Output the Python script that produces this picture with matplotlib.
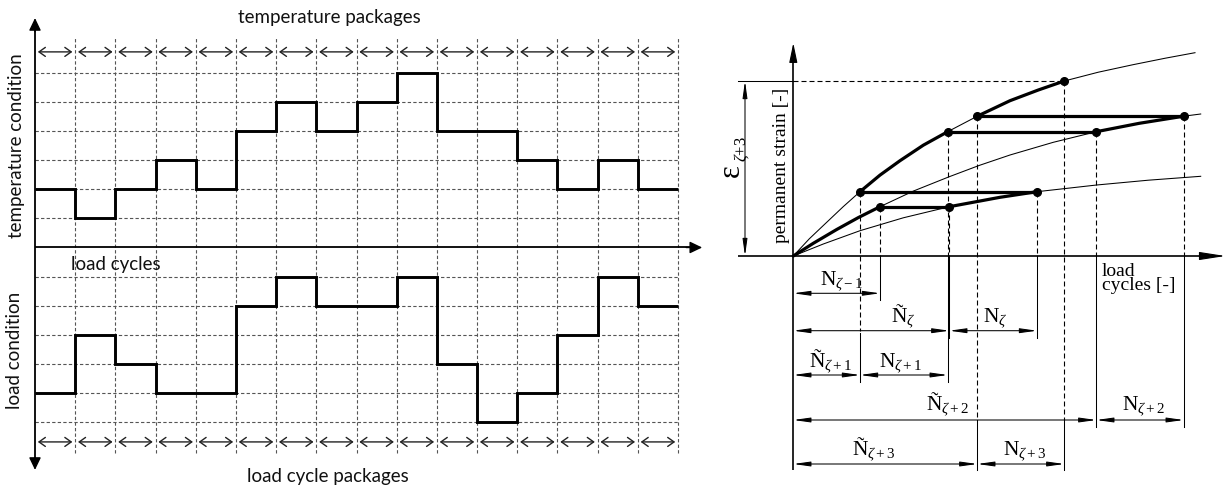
import numpy as np
import matplotlib
matplotlib.use("Agg")
import matplotlib.pyplot as plt

# ------------------------------------------------------------------ data
# left: step histories (level index per package, 16 packages)
temp_levels = [2, 1, 2, 3, 2, 4, 5, 4, 5, 6, 4, 4, 3, 2, 3, 2]
load_levels = [5, 3, 4, 5, 5, 2, 1, 2, 2, 1, 4, 6, 5, 3, 1, 2]   # drawn downward
n_packages = 16
n_grid_levels = 6

# right: three strain curves (load cycles, permanent strain)
top_N = [0, 16.0, 33.4, 50.0, 66.7, 86.7, 106.7, 130.0, 154.4, 184.0, 216.7, 245.0,
         271.0, 305.0, 339.7, 372.0, 401.7]
top_eps = [0, 17.2, 33.7, 49.4, 64.3, 80.9, 95.3, 110.8, 124.3, 139.8, 155.3, 166.0,
           175.0, 183.8, 191.3, 197.8, 203.3]
mid_N = [0, 20.0, 43.4, 65.0, 86.7, 120.0, 156.0, 186.0, 216.7, 260.0, 303.0, 346.0,
         390.4, 407.4]
mid_eps = [0, 12.7, 26.5, 38.4, 49.3, 64.9, 79.3, 90.6, 101.0, 113.7, 124.3, 132.7,
           139.8, 142.0]
bot_N = [0, 30.0, 66.7, 110.0, 156.0, 206.7, 243.7, 303.4, 355.0, 407.4]
bot_eps = [0, 12.0, 25.3, 38.2, 49.3, 58.7, 64.3, 71.0, 75.8, 79.7]

# state points on the curves
point_names = ["A", "B", "C", "D", "E", "F", "G", "H", "I"]
point_N = [66.7, 86.7, 156.0, 243.7, 154.4, 303.0, 184.0, 390.4, 271.0]
point_eps = [64.3, 49.3, 49.3, 64.3, 124.3, 124.3, 139.8, 139.8, 175.0]

# dimension rows: label, start point, end point, row level, label x, label baseline
dim_labels = [r"$\mathrm{N}_{\zeta-1}$", r"$\mathrm{Ñ}_{\zeta}$", r"$\mathrm{N}_{\zeta}$",
              r"$\mathrm{Ñ}_{\zeta+1}$", r"$\mathrm{N}_{\zeta+1}$",
              r"$\mathrm{Ñ}_{\zeta+2}$", r"$\mathrm{N}_{\zeta+2}$",
              r"$\mathrm{Ñ}_{\zeta+3}$", r"$\mathrm{N}_{\zeta+3}$"]
dim_from = ["O", "O", "C", "O", "A", "O", "F", "O", "G"]
dim_to = ["B", "C", "D", "A", "E", "F", "H", "G", "I"]
dim_row = [-37.3, -74.7, -74.7, -119, -119, -164, -164, -208, -208]
dim_lab_x = [26.7, 97.7, 190.0, 15.7, 85.7, 132.7, 328.4, 58.4, 210.0]
dim_lab_y = [-28, -65.7, -65.7, -110, -110, -153.3, -153.3, -198, -198]

# ------------------------------------------------------------------ style
plt.rcParams["font.family"] = ["Lato", "DejaVu Sans"]
plt.rcParams["mathtext.fontset"] = "custom"
plt.rcParams["mathtext.rm"] = "Liberation Serif"
plt.rcParams["mathtext.it"] = "Liberation Serif:italic"
plt.rcParams["mathtext.bf"] = "Liberation Serif:bold"

fig = plt.figure(figsize=(12.27, 4.86), dpi=100)
fig.patch.set_facecolor("white")

# ================================================================== left panel
axL = fig.add_axes([0, 0, 1, 1])
axL.set_xlim(-0.8709, 29.659)
axL.set_ylim(-8.182, 8.490)
axL.axis("off")
axL.patch.set_alpha(0)

grid_kw = dict(color="#555555", lw=0.8, linestyle=(0, (3, 2)), zorder=1)
levels = np.arange(1, n_grid_levels + 1)
axL.hlines(levels, 0, n_packages, **grid_kw)
axL.hlines(-levels, 0, n_packages, **grid_kw)
cols = np.arange(1, n_packages + 1)
axL.vlines(cols, -7.05, 7.22, **grid_kw)

edges = np.arange(n_packages + 1)
axL.stairs(temp_levels, edges, baseline=None, color="black", lw=2.1, zorder=3)
axL.stairs(-np.array(load_levels), edges, baseline=None, color="black", lw=2.1, zorder=3)

# axes
axL.plot([0, 16.3], [0, 0], color="black", lw=1.3, solid_capstyle="butt", zorder=4)
axL.annotate("", xy=(16.6, 0), xytext=(16.2, 0),
             arrowprops=dict(arrowstyle="-|>,head_length=0.75,head_width=0.36",
                             mutation_scale=10, lw=1.0, color="black",
                             shrinkA=0, shrinkB=0))
axL.plot([0, 0], [-7.4, 7.6], color="black", lw=1.3, solid_capstyle="butt", zorder=4)
axL.annotate("", xy=(0, 7.87), xytext=(0, 7.4),
             arrowprops=dict(arrowstyle="-|>,head_length=0.75,head_width=0.36",
                             mutation_scale=10, lw=1.0, color="black",
                             shrinkA=0, shrinkB=0))
axL.annotate("", xy=(0, -7.63), xytext=(0, -7.2),
             arrowprops=dict(arrowstyle="-|>,head_length=0.75,head_width=0.36",
                             mutation_scale=10, lw=1.0, color="black",
                             shrinkA=0, shrinkB=0))

# package arrows
g = 0.07
for c in range(n_packages):
    for row in (6.71, -6.67):
        axL.annotate("", xy=(c + 1 - g, row), xytext=(c + g, row),
                     arrowprops=dict(arrowstyle="<->,head_length=0.38,head_width=0.27",
                                     mutation_scale=12, lw=1.0, color="#222222",
                                     shrinkA=0, shrinkB=0))

tkw = dict(fontsize=13.5, color="#111111", ha="center", va="center")
axL.text(7.315, 7.90, "temperature packages", **tkw)
axL.text(2.003, -0.60, "load cycles", **tkw)
axL.text(7.278, -7.85, "load cycle packages", **tkw)
axL.text(-0.45, 3.48, "temperature condition", rotation=90, **tkw)
axL.text(-0.50, -3.52, "load condition", rotation=90, **tkw)

# ================================================================== right panel
axR = fig.add_axes([0, 0, 1, 1])
axR.set_xlim(-793.3, 433.7)
axR.set_ylim(-230, 256)
axR.axis("off")
axR.patch.set_alpha(0)

P = {"O": (0.0, 0.0)}
P.update({n: (x, y) for n, x, y in zip(point_names, point_N, point_eps)})
curves = {"top": (np.array(top_N), np.array(top_eps)),
          "mid": (np.array(mid_N), np.array(mid_eps)),
          "bot": (np.array(bot_N), np.array(bot_eps))}

thin = 0.75
bold = 2.3
dash_kw = dict(color="black", lw=0.8, linestyle=(0, (4.5, 2.7)))
serif = "Liberation Serif"

for key in curves:
    axR.plot(*curves[key], color="black", lw=thin, solid_joinstyle="round")


def along(key, a, b):
    Ns, Es = curves[key]
    lo, hi = sorted((P[a][0], P[b][0]))
    m = (Ns >= lo - 1e-6) & (Ns <= hi + 1e-6)
    return Ns[m], Es[m]


legs = [("mid", "O", "B"), (None, "B", "C"), ("bot", "C", "D"), (None, "D", "A"),
        ("top", "A", "E"), (None, "E", "F"), ("mid", "F", "H"), (None, "H", "G"),
        ("top", "G", "I")]
for key, a, b in legs:
    if key is None:
        xs, ys = [P[a][0], P[b][0]], [P[a][1], P[b][1]]
    else:
        xs, ys = along(key, a, b)
    axR.plot(xs, ys, color="black", lw=bold, solid_capstyle="round",
             solid_joinstyle="round")

axR.plot(point_N, point_eps, "o", color="black", ms=5.5)

# drop lines (dashed above the axis)
for n in ["B", "C", "D", "E", "F", "H"]:
    axR.plot([P[n][0], P[n][0]], [P[n][1], 0], **dash_kw)
axR.plot([P["A"][0]] * 2, [P["A"][1], -74.7], **dash_kw)
axR.plot([P["G"][0]] * 2, [P["G"][1], -164], **dash_kw)
axR.plot([P["I"][0]] * 2, [P["I"][1], -164], **dash_kw)
axR.plot([0, P["I"][0]], [P["I"][1], P["I"][1]], **dash_kw)

# solid extension lines below the axis
ext = [("B", 0, -44), ("C", 0, -82), ("D", 0, -82), ("A", -77, -126),
       ("E", 0, -126), ("F", 0, -171), ("H", 0, -171), ("G", -164, -214),
       ("I", -164, -214)]
for n, y0, y1 in ext:
    axR.plot([P[n][0]] * 2, [y0, y1], color="black", lw=thin)

# axes
axR.plot([0, 0], [-214, 200], color="black", lw=1.2, solid_capstyle="butt")
axR.annotate("", xy=(0, 213), xytext=(0, 195),
             arrowprops=dict(arrowstyle="-|>,head_length=1.2,head_width=0.25",
                             mutation_scale=10, lw=0.8, color="black",
                             shrinkA=0, shrinkB=0))
axR.plot([-55, 415], [0, 0], color="black", lw=1.2, solid_capstyle="butt")
axR.annotate("", xy=(432, 0), xytext=(408, 0),
             arrowprops=dict(arrowstyle="-|>,head_length=1.6,head_width=0.25",
                             mutation_scale=10, lw=0.8, color="black",
                             shrinkA=0, shrinkB=0))

# epsilon dimension
axR.plot([-55, 0], [P["I"][1], P["I"][1]], color="black", lw=thin)
axR.annotate("", xy=(-48.3, P["I"][1]), xytext=(-48.3, 0),
             arrowprops=dict(arrowstyle="<|-|>,head_length=1.0,head_width=0.14",
                             mutation_scale=10, lw=thin, color="black",
                             shrinkA=0, shrinkB=0))

# N dimension arrows
for lab, a, b, row, lx, ly in zip(dim_labels, dim_from, dim_to, dim_row,
                                  dim_lab_x, dim_lab_y):
    axR.annotate("", xy=(P[b][0], row), xytext=(P[a][0], row),
                 arrowprops=dict(arrowstyle="<|-|>,head_length=1.0,head_width=0.14",
                                 mutation_scale=10, lw=thin, color="black",
                                 shrinkA=0, shrinkB=0))
    axR.text(lx, ly, lab, fontsize=15.5, ha="left", va="baseline", color="black")

axR.text(-11.6, 90.7, "permanent strain [-]", rotation=90, ha="center", va="center",
         fontsize=14, family=serif, color="black")
axR.text(-61.6, 85, "ε", rotation=90, ha="center", va="center",
         fontsize=22, family=serif, color="black")
axR.text(-51.8, 106.5, r"$\zeta$+3", rotation=90, ha="center", va="center",
         fontsize=12, family=serif, color="black")
axR.text(308.4, -7, "load\ncycles [-]", ha="left", va="top", fontsize=14,
         family=serif, linespacing=0.75, color="black")

fig.savefig("out.png", dpi=100)
